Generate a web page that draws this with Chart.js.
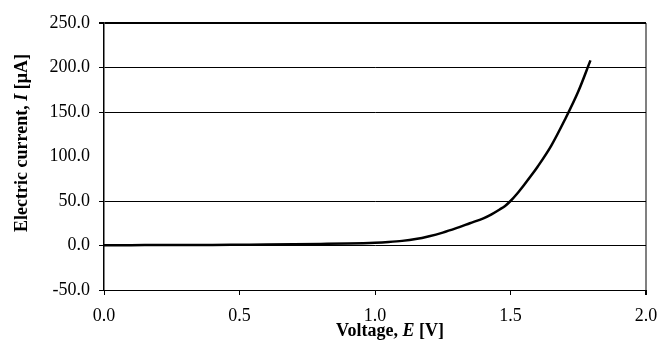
<!DOCTYPE html>
<html>
<head>
<meta charset="utf-8">
<script src="https://cdn.jsdelivr.net/npm/chart.js@4/dist/chart.umd.min.js"></script>
<style>
html,body{margin:0;padding:0;background:#fff;}
#wrap{width:658px;height:342px;position:relative;}
</style>
</head>
<body>
<div id="wrap"><canvas id="c" width="658" height="342"></canvas></div>
<script>
// Data
const voltage = [0.0,0.1,0.2,0.3,0.4,0.5,0.6,0.7,0.8,0.9,1.0,1.05,1.1,1.15,1.2,1.25,1.3,1.35,1.4,1.43,1.46,1.48,1.5,1.525,1.55,1.575,1.6,1.65,1.7,1.75,1.795];
const current = [0.3,0.4,0.5,0.6,0.7,0.9,1.1,1.4,1.8,2.3,3.2,4.0,5.2,7.2,10.4,14.5,19.5,25,30.5,35,40.5,44.5,50,58.5,68,78,88.5,112,141,173,208];
const xTicks = [0.0,0.5,1.0,1.5,2.0];
const yTicks = [-50,0,50,100,150,200,250];
const xTitle = [["Voltage, ","bold"],["E","italic bold"],[" [V]","bold"]];
const yTitle = [["Electric current, ","bold"],["I","italic bold"],[" [\u03bcA]","bold"]];

const FONT = '"Liberation Serif","Times New Roman",serif';

function drawMixed(ctx, parts, size) {
  let total = 0;
  const w = parts.map(p => { ctx.font = p[1] + ' ' + size + 'px ' + FONT; const m = ctx.measureText(p[0]).width; total += m; return m; });
  let x = -total / 2;
  parts.forEach((p, i) => { ctx.font = p[1] + ' ' + size + 'px ' + FONT; ctx.fillText(p[0], x, 0); x += w[i]; });
}

const titlePlugin = {
  id: 'titles',
  afterDraw(chart) {
    const ctx = chart.ctx;
    ctx.save();
    ctx.fillStyle = '#000';
    ctx.textBaseline = 'alphabetic';
    ctx.textAlign = 'left';
    ctx.save();
    ctx.translate(390, 336);
    drawMixed(ctx, xTitle, 18);
    ctx.restore();
    ctx.save();
    ctx.translate(27, 143);
    ctx.rotate(-Math.PI / 2);
    drawMixed(ctx, yTitle, 18);
    ctx.restore();
    ctx.restore();
  }
};

new Chart(document.getElementById('c'), {
  type: 'line',
  data: {
    datasets: [{
      data: voltage.map((v, i) => ({x: v, y: current[i]})),
      borderColor: '#000',
      borderWidth: 2.5,
      pointRadius: 0,
      cubicInterpolationMode: 'monotone',
      fill: false
    }]
  },
  options: {
    responsive: false,
    animation: false,
    devicePixelRatio: 1,
    layout: {padding: {top: 23, right: 12, bottom: 0, left: 0}},
    plugins: {legend: {display: false}, tooltip: {enabled: false}},
    scales: {
      x: {
        type: 'linear',
        min: 0, max: 2,
        afterBuildTicks: s => { s.ticks = xTicks.map(v => ({value: v})); },
        afterFit: s => { s.height = 52; s.paddingLeft = 0; s.paddingRight = 0; },
        ticks: {
          color: '#000',
          font: {family: FONT, size: 18},
          padding: 10,
          maxRotation: 0,
          callback: v => Number(v).toFixed(1)
        },
        grid: {
          drawOnChartArea: true,
          color: c => (c.tick && c.tick.value === 2) ? '#808080' : 'rgba(0,0,0,0)',
          lineWidth: c => (c.tick && c.tick.value === 2) ? 2 : 1,
          tickColor: '#000',
          tickLength: 5
        },
        border: {color: '#000', width: 1}
      },
      y: {
        type: 'linear',
        min: -50, max: 250,
        afterBuildTicks: s => { s.ticks = yTicks.map(v => ({value: v})); },
        afterFit: s => { s.width = 104; s.paddingTop = 0; s.paddingBottom = 0; },
        ticks: {
          color: '#000',
          font: {family: FONT, size: 18},
          padding: 9,
          callback: v => Number(v).toFixed(1)
        },
        grid: {
          color: c => (c.tick && c.tick.value === 100) ? 'rgba(0,0,0,0)' : '#000',
          lineWidth: c => (c.tick && c.tick.value === 250) ? 2 : 1,
          tickColor: c => (c.tick && c.tick.value === 100) ? 'rgba(0,0,0,0)' : '#000',
          tickLength: 5
        },
        border: {color: '#000', width: 1.5}
      }
    }
  },
  plugins: [titlePlugin]
});
</script>
</body>
</html>
